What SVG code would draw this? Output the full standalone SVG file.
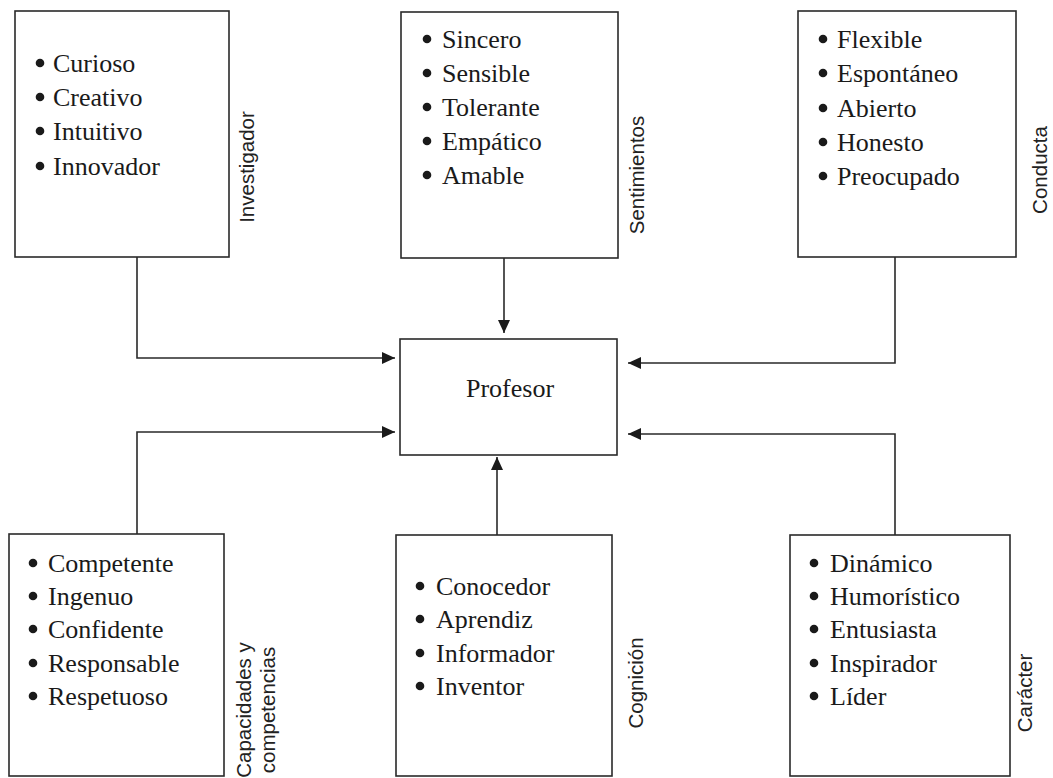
<svg xmlns="http://www.w3.org/2000/svg" width="1053" height="778" viewBox="0 0 1053 778">
<style>
.box{fill:#fff;stroke:#2a2a2a;stroke-width:1.6}
.item{font-family:"Liberation Serif","Times New Roman",serif;font-size:26px;fill:#1a1a1a}
.lbl{font-family:"Liberation Sans",Arial,sans-serif;font-size:20.5px;fill:#222;text-anchor:middle}
.con{fill:none;stroke:#2a2a2a;stroke-width:1.6;marker-end:url(#ah)}
.dot{fill:#1a1a1a}
</style>
<defs>
<marker id="ah" markerUnits="userSpaceOnUse" markerWidth="14" markerHeight="12" refX="13" refY="6" orient="auto">
<path d="M0,0 L13,6 L0,12 z" fill="#1a1a1a"/>
</marker>
<circle id="b" class="dot" r="4.3"/>
</defs>
<rect width="1053" height="778" fill="#fff"/>
<g id="connectors">
<path class="con" d="M137,257 V358 H395"/>
<path class="con" d="M504,258 V333"/>
<path class="con" d="M895,257 V363 H628"/>
<path class="con" d="M137,534 V432 H395"/>
<path class="con" d="M497,535 V457"/>
<path class="con" d="M895,535 V434 H628"/>
</g>
<g id="investigador">
<rect class="box" x="15" y="11" width="214" height="246"/>
<use href="#b" x="40" y="63"/><use href="#b" x="40" y="97"/><use href="#b" x="40" y="131"/><use href="#b" x="40" y="166"/>
<text class="item" x="53" y="72">Curioso</text>
<text class="item" x="53" y="106">Creativo</text>
<text class="item" x="53" y="140">Intuitivo</text>
<text class="item" x="53" y="175">Innovador</text>
<text class="lbl" transform="translate(254,167) rotate(-90)">Investigador</text>
</g>
<g id="sentimientos">
<rect class="box" x="401" y="12" width="217" height="246"/>
<use href="#b" x="427" y="39"/><use href="#b" x="427" y="73"/><use href="#b" x="427" y="107"/><use href="#b" x="427" y="141"/><use href="#b" x="427" y="175"/>
<text class="item" x="442" y="48">Sincero</text>
<text class="item" x="442" y="82">Sensible</text>
<text class="item" x="442" y="116">Tolerante</text>
<text class="item" x="442" y="150">Empático</text>
<text class="item" x="442" y="184">Amable</text>
<text class="lbl" transform="translate(643.5,175) rotate(-90)">Sentimientos</text>
</g>
<g id="conducta">
<rect class="box" x="798" y="11" width="218" height="246"/>
<use href="#b" x="823" y="39"/><use href="#b" x="823" y="73"/><use href="#b" x="823" y="108"/><use href="#b" x="823" y="142"/><use href="#b" x="823" y="176"/>
<text class="item" x="837" y="48">Flexible</text>
<text class="item" x="837" y="82">Espontáneo</text>
<text class="item" x="837" y="117">Abierto</text>
<text class="item" x="837" y="151">Honesto</text>
<text class="item" x="837" y="185">Preocupado</text>
<text class="lbl" transform="translate(1047,170) rotate(-90)">Conducta</text>
</g>
<g id="profesor">
<rect class="box" x="400" y="339" width="217" height="116"/>
<text class="item" x="510" y="397" text-anchor="middle">Profesor</text>
</g>
<g id="capacidades">
<rect class="box" x="9" y="534" width="215" height="242"/>
<use href="#b" x="33" y="563"/><use href="#b" x="33" y="596"/><use href="#b" x="33" y="629"/><use href="#b" x="33" y="663"/><use href="#b" x="33" y="696"/>
<text class="item" x="48" y="572">Competente</text>
<text class="item" x="48" y="605">Ingenuo</text>
<text class="item" x="48" y="638">Confidente</text>
<text class="item" x="48" y="672">Responsable</text>
<text class="item" x="48" y="705">Respetuoso</text>
<text class="lbl" transform="translate(251,710) rotate(-90)">Capacidades y</text>
<text class="lbl" transform="translate(275,710) rotate(-90)">competencias</text>
</g>
<g id="cognicion">
<rect class="box" x="396" y="535" width="216" height="241"/>
<use href="#b" x="420" y="586"/><use href="#b" x="420" y="619"/><use href="#b" x="420" y="653"/><use href="#b" x="420" y="686"/>
<text class="item" x="436" y="595">Conocedor</text>
<text class="item" x="436" y="628">Aprendiz</text>
<text class="item" x="436" y="662">Informador</text>
<text class="item" x="436" y="695">Inventor</text>
<text class="lbl" transform="translate(643,683) rotate(-90)">Cognición</text>
</g>
<g id="caracter">
<rect class="box" x="790" y="535" width="220" height="241"/>
<use href="#b" x="814" y="563"/><use href="#b" x="814" y="596"/><use href="#b" x="814" y="629"/><use href="#b" x="814" y="663"/><use href="#b" x="814" y="696"/>
<text class="item" x="830" y="572">Dinámico</text>
<text class="item" x="830" y="605">Humorístico</text>
<text class="item" x="830" y="638">Entusiasta</text>
<text class="item" x="830" y="672">Inspirador</text>
<text class="item" x="830" y="705">Líder</text>
<text class="lbl" transform="translate(1032,693) rotate(-90)">Carácter</text>
</g>
</svg>
